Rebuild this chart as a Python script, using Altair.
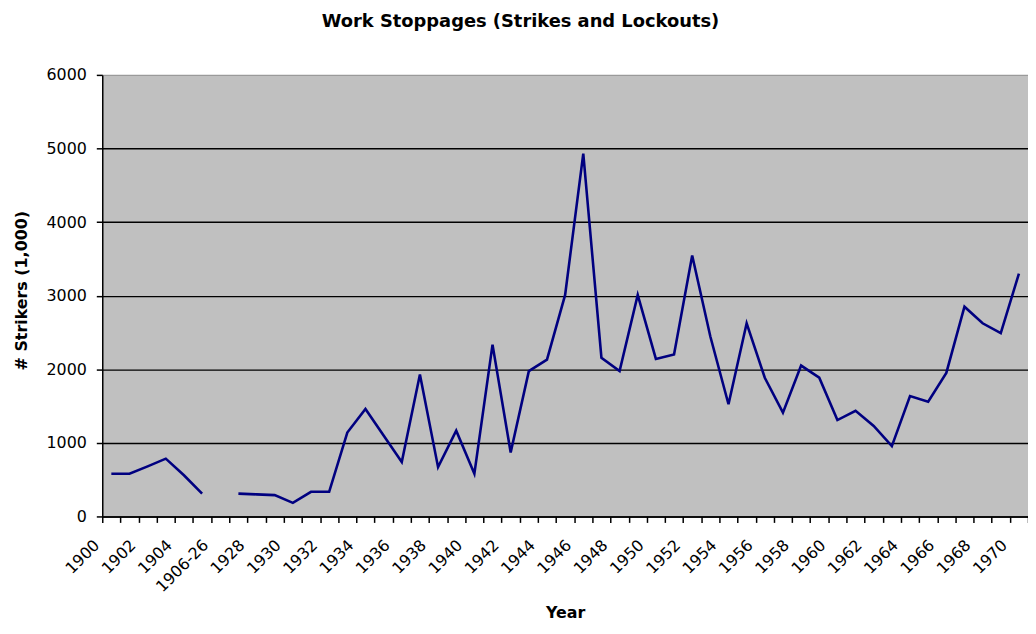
import altair as alt
import pandas as pd

years = ["1900", "1901", "1902", "1903", "1904", "1905", "1906-26"] + [str(y) for y in range(1927, 1971)]
strikers = [
    580, 580, 680, 785, 560, 310, None,
    310, 300, 290, 185, 335, 335, 1140, 1460, 1100, 740,
    1930, 670, 1165, 580, 2335, 870, 1975, 2130, 3010, 4930,
    2155, 1975, 3010, 2140, 2200, 3545, 2445, 1525, 2625, 1885,
    1410, 2050, 1885, 1310, 1435, 1230, 955, 1635, 1560, 1950,
    2850, 2625, 2490, 3300,
]
y_ticks = [0, 1000, 2000, 3000, 4000, 5000, 6000]

df = pd.DataFrame({"Year": years, "Strikers": strikers})

hidden = years[1::2]
hidden_list = ",".join("'%s'" % h for h in hidden)
label_expr = "indexof([%s], datum.value) >= 0 ? '' : datum.label" % hidden_list

FONT = "DejaVu Sans"

chart = alt.Chart(df).mark_line(
    color="#000080", strokeWidth=2.6, invalid="break-paths-show-domains"
).encode(
    x=alt.X(
        "Year:N",
        sort=years,
        bandPosition=0.5,
        scale=alt.Scale(type="band", domain=years, paddingInner=0, paddingOuter=0),
        axis=alt.Axis(
            title="Year",
            titleFont=FONT, titleFontSize=16, titleFontWeight="bold", titleColor="black",
            titleY=97, titleBaseline="middle",
            tickBand="extent", tickSize=6, tickColor="black", tickWidth=1.5,
            domainColor="black", domainWidth=1.5,
            labelAngle=-45, labelAlign="right", labelBaseline="middle",
            labelPadding=20, labelOffset=-15,
            labelFont=FONT, labelFontSize=16, labelColor="black",
            labelExpr=label_expr, labelOverlap=False,
            grid=False,
        ),
    ),
    y=alt.Y(
        "Strikers:Q",
        scale=alt.Scale(domain=[0, 6000], nice=False, zero=True),
        axis=alt.Axis(
            title="# Strikers (1,000)",
            titleFont=FONT, titleFontSize=16, titleFontWeight="bold", titleColor="black",
            titleX=-81, titleY=217, titleAlign="center", titleBaseline="middle", titleAngle=270,
            values=y_ticks, format="d",
            tickSize=6, tickColor="black", tickWidth=1.5,
            domainColor="black", domainWidth=1.5,
            labelPadding=10, labelFont=FONT, labelFontSize=16, labelColor="black",
            grid=True,
            gridColor=alt.ConditionalAxisColor(
                condition={"test": "datum.value === 6000", "value": "#9a9a9a"},
                value="black",
            ),
            gridWidth=1.4,
        ),
    ),
).properties(
    width=933,
    height=445,
    background="white",
    title=alt.TitleParams(
        "Work Stoppages (Strikes and Lockouts)",
        font=FONT, fontSize=18, fontWeight="bold", color="black",
        anchor="middle", frame="group", dx=-45, offset=36,
    ),
    autosize=alt.AutoSizeParams(type="none"),
    padding={"left": 95, "top": 65, "right": 0, "bottom": 108},
).configure_view(
    fill="#c0c0c0", stroke=None
)

chart.save("out.html", embed_options={"renderer": "svg", "actions": False})
